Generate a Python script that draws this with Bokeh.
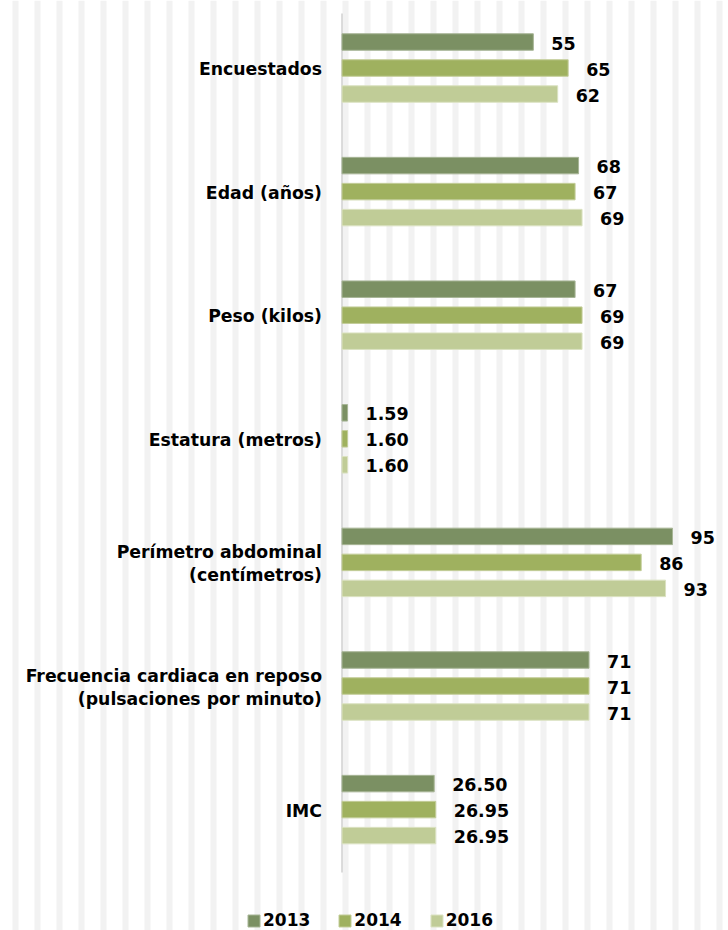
from bokeh.plotting import figure
from bokeh.models import ColumnDataSource, Range1d, Legend, LegendItem
from bokeh.core.properties import value
from bokeh.embed import file_html
from bokeh.resources import INLINE
import numpy as np

# ---- data ----
categories = ["Encuestados", "Edad (años)", "Peso (kilos)", "Estatura (metros)",
              "Perímetro abdominal\n(centímetros)",
              "Frecuencia cardiaca en reposo\n(pulsaciones por minuto)", "IMC"]
series = ["2013", "2014", "2016"]
v2013 = [55, 68, 67, 1.59, 95, 71, 26.50]
v2014 = [65, 67, 69, 1.60, 86, 71, 26.95]
v2016 = [62, 69, 69, 1.60, 93, 71, 26.95]
l2013 = ["55", "68", "67", "1.59", "95", "71", "26.50"]
l2014 = ["65", "67", "69", "1.60", "86", "71", "26.95"]
l2016 = ["62", "69", "69", "1.60", "93", "71", "26.95"]
colors = ["#7b9063", "#9fb15f", "#c0cc97"]
edge_colors = ["#a7b596", "#c3cd99", "#dbe2c2"]

W, H = 728, 930
XPX = 330.5 / 95.0          # px per unit
X0 = 341.5                  # px position of zero
YPX = 123.6                 # px per category
Y0 = 67.5                   # px position of first category center

FONT = "DejaVu Sans"

p = figure(width=W, height=H, output_backend="svg", toolbar_location=None,
           x_range=Range1d(-X0 / XPX, (W - X0) / XPX),
           y_range=Range1d((H - Y0) / YPX, -Y0 / YPX),
           x_axis_type=None, y_axis_type=None, min_border=0)
p.outline_line_color = None
p.grid.visible = False
p.background_fill_color = "white"
p.border_fill_color = "white"

# background stripes (decorative)
k = np.arange(0, 34)
left_px = 12 + 22 * k
p.quad(left=(left_px - X0) / XPX, right=(left_px + 6 - X0) / XPX,
       bottom=(H - Y0) / YPX, top=-Y0 / YPX,
       fill_color="#f2f2f2", line_color=None)

# axis line
p.segment(x0=[0], x1=[0], y0=[(13 - Y0) / YPX], y1=[(872 - Y0) / YPX],
          line_color="#d0d0d0", line_width=1.5)

ypos = np.arange(len(categories))
off = 26.0 / YPX
bh = 16.5 / YPX
renderers = []
for j, (vals, labs) in enumerate([(v2013, l2013), (v2014, l2014), (v2016, l2016)]):
    src = ColumnDataSource(dict(y=ypos + (j - 1) * off, v=vals, lab=labs))
    r = p.hbar(y="y", right="v", left=0, height=bh, source=src,
               fill_color=colors[j], line_color=edge_colors[j], line_width=1)
    renderers.append(r)
    p.text(x="v", y="y", text="lab", source=src, x_offset=18, y_offset=1,
           text_font=value(FONT), text_font_style="bold", text_font_size="17.5px",
           text_align="left", text_baseline="middle", text_color="black")

csrc = ColumnDataSource(dict(y=ypos, t=categories, x=[0] * len(categories)))
p.text(x="x", y="y", text="t", source=csrc, x_offset=-20, y_offset=1,
       text_font=value(FONT), text_font_style="bold", text_font_size="17.3px",
       text_align="right", text_baseline="middle", text_color="black",
       text_line_height=1.15)

legend = Legend(items=[LegendItem(label=s, renderers=[r]) for s, r in zip(series, renderers)],
                orientation="horizontal", location=(246, 0),
                background_fill_alpha=0, border_line_alpha=0,
                glyph_width=15, glyph_height=15, label_standoff=2, spacing=27,
                padding=0, margin=0,
                label_text_font=FONT, label_text_font_style="bold",
                label_text_font_size="17px", label_text_color="black")
p.add_layout(legend)

open("out.html", "w").write(file_html(p, INLINE))
